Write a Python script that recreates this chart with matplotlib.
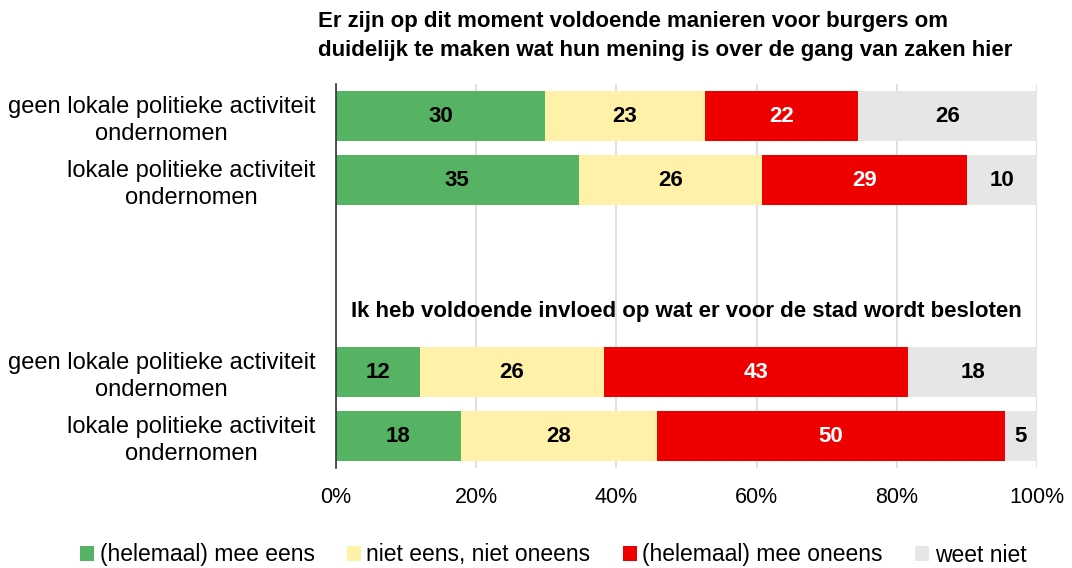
import matplotlib.pyplot as plt
import matplotlib.ticker as ticker

plt.rcParams['font.family'] = ['Liberation Sans', 'DejaVu Sans']

rows = ["geen lokale politieke activiteit\nondernomen",
        "lokale politieke activiteit\nondernomen",
        "geen lokale politieke activiteit\nondernomen",
        "lokale politieke activiteit\nondernomen"]
positions = [0, 1, 4, 5]

categories = ["(helemaal) mee eens", "niet eens, niet oneens",
              "(helemaal) mee oneens", "weet niet"]
mee_eens = [29.8, 34.6, 12.0, 17.8]
neutraal = [22.8, 26.2, 26.2, 28.0]
mee_oneens = [21.8, 29.2, 43.4, 49.6]
weet_niet = [25.6, 10.0, 18.4, 4.6]

titles = ["Er zijn op dit moment voldoende manieren voor burgers om\n"
          "duidelijk te maken wat hun mening is over de gang van zaken hier",
          "Ik heb voldoende invloed op wat er voor de stad wordt besloten"]

colors = ["#55b363", "#fff2a8", "#ee0000", "#e6e6e6"]
text_colors = ["black", "black", "white", "black"]

fig = plt.figure(figsize=(10.72, 5.68), dpi=100)
ax = fig.add_axes([336/1072, 1 - 468/568, 701/1072, 384/568])

left = [0, 0, 0, 0]
for series, name, c, tc in zip([mee_eens, neutraal, mee_oneens, weet_niet],
                               categories, colors, text_colors):
    bars = ax.barh(positions, series, left=left, height=0.78, color=c,
                   label=name, zorder=2)
    for b, v in zip(bars, series):
        ax.text(b.get_x() + b.get_width() / 2, b.get_y() + b.get_height() / 2,
                f"{v:.0f}", ha="center", va="center", color=tc,
                fontsize=16, fontweight="bold", zorder=3)
    left = [l + v for l, v in zip(left, series)]

ax.set_xlim(0, 100)
ax.set_ylim(5.5, -0.5)
ax.set_yticks(positions)
ax.set_yticklabels(rows, fontsize=17, multialignment="center", linespacing=1.25)
ax.tick_params(axis="y", length=0, pad=15)
ax.tick_params(axis="x", length=0, labelsize=15.5, pad=14)
ax.xaxis.set_major_locator(ticker.MultipleLocator(20))
ax.xaxis.set_major_formatter(ticker.FuncFormatter(lambda x, p: f"{x:.0f}%"))
ax.grid(axis="x", color="#d9d9d9", linewidth=1.2, zorder=0)
for s in ["top", "right", "bottom"]:
    ax.spines[s].set_visible(False)
ax.spines["left"].set_color("#333333")
ax.spines["left"].set_linewidth(1.2)
ax.spines["left"].set_zorder(4)

fig.text(318/1072, 1 - 36/568, titles[0], ha="left", va="center",
         fontsize=16, fontweight="bold", linespacing=1.45)
ax.text(50, 3.05, titles[1], ha="center", va="center",
        fontsize=16, fontweight="bold")

fig.legend(loc="center", bbox_to_anchor=(553/1072, 1 - 555/568), ncol=4,
           frameon=False, fontsize=16.5, handlelength=0.61, handleheight=0.61,
           handletextpad=0.25, columnspacing=1.4)

fig.savefig("out.png", dpi=100)
